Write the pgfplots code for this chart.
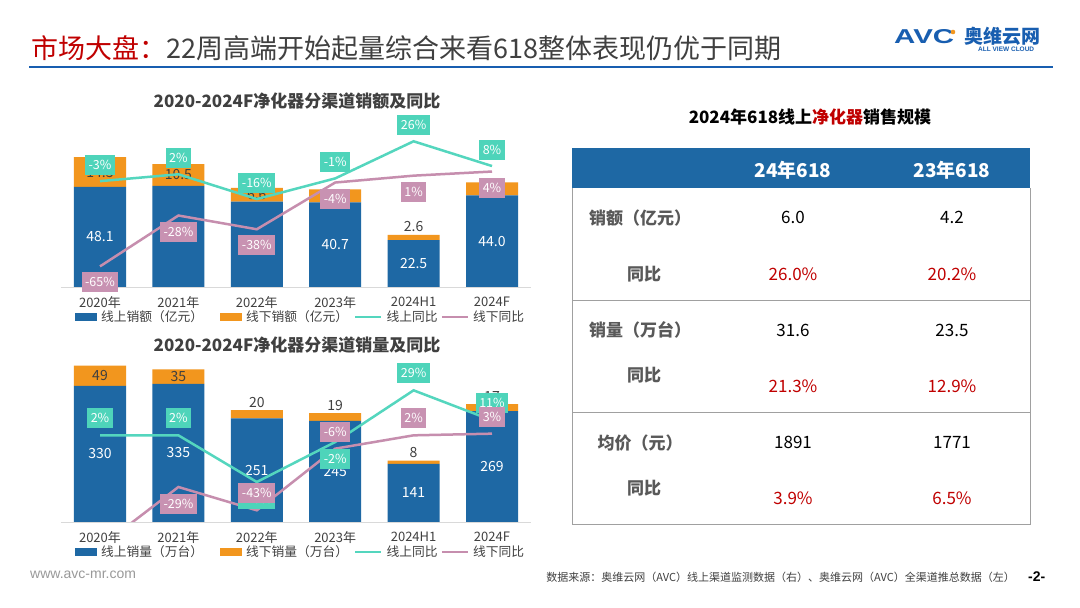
\documentclass[border=0pt]{standalone}
\usepackage{fontspec}
\usepackage{graphicx}
\usepackage{pgfplots}
\usepackage{pgfplotstable}
\pgfplotsset{compat=1.18}
\setmainfont{Noto Sans CJK SC}
\setsansfont{Noto Sans CJK SC}
\newfontfamily\lib{Liberation Sans}

\definecolor{barblue}{RGB}{30,104,164}
\definecolor{barorange}{RGB}{242,150,30}
\definecolor{lteal}{RGB}{84,214,190}
\definecolor{bteal}{RGB}{78,212,186}
\definecolor{lpink}{RGB}{198,142,174}
\definecolor{bpink}{RGB}{200,146,178}
\definecolor{tred}{RGB}{192,0,0}
\definecolor{txt}{RGB}{64,64,64}
\definecolor{lbl}{RGB}{89,89,89}
\definecolor{logoblue}{RGB}{24,94,176}
\definecolor{rulegray}{RGB}{160,160,160}

\newcommand{\fs}[1]{\fontsize{#1}{#1}\selectfont}

% sales amount (100 million yuan) and yoy (%)
% olv/ofv: 1 = value label shown, 0 = label hidden behind a yoy box in the reference
\pgfplotstableread{
x on off ab olv ofv onyoy ond onv offyoy offd offv
0 48.1 14.3 0 1 1 -3 1 1 -65 -1 1
1 48.6 10.5 0 0 1 2 1 1 -28 -1 1
2 41.0 6.6 0 0 1 -16 1 1 -38 -1 1
3 40.7 6.2 0 1 1 -1 1 1 -4 -1 1
4 22.5 2.6 1 1 1 26 1 1 1 -1 1
5 44.0 6.3 0 1 0 8 1 1 4 -1 1
}\amt
% sales volume (10k units) and yoy (%)
\pgfplotstableread{
x on off ab olv ofv onyoy ond onv offyoy offd offv
0 330 49 0 1 1 2 1 1 -65 -1 0
1 335 35 0 1 1 2 1 1 -29 -1 1
2 251 20 1 1 1 -26 -1 1 -43 1 1
3 245 19 1 1 1 -2 -1 1 -6 1 1
4 141 8 1 1 1 29 1 1 2 1 1
5 269 17 1 1 1 11 1 1 3 1 1
}\vol

\pgfplotsset{
  geo/.style={scale only axis, width=470.4pt, xmin=-0.5, xmax=5.5, anchor=south west},
  barleg/.style={legend image code/.code={\fill[##1] (0pt,-4pt) rectangle (22pt,4pt);}},
  lineleg/.style={legend image code/.code={\draw[##1] (0pt,0pt) -- (26pt,0pt);}},
  linelab/.style n args={4}{nodes near coords={\pgfplotspointmeta\%}, point meta=explicit symbolic,
    visualization depends on={\thisrow{#1}\as\ldir},
    visualization depends on={\thisrow{#2}\as\lvis},
    nodes near coords style={anchor=center, yshift=\ldir*#4, fill=#3, text=white,
      font=\fs{12.5}, inner xsep=3.5pt, inner ysep=0pt, minimum height=20pt, opacity=\lvis}},
  onlab/.style={nodes near coords, point meta=explicit symbolic,
    visualization depends on={\thisrow{olv}\as\olv},
    nodes near coords style={anchor=center, text=white, font=\fs{14}, opacity=\olv}},
  offlab/.style={nodes near coords, point meta=explicit symbolic,
    visualization depends on={\thisrow{ab}\as\lab},
    visualization depends on={\thisrow{ofv}\as\ofv},
    nodes near coords style={anchor=center, yshift=\lab*8pt, text=txt, font=\fs{14}, opacity=\ofv}},
  barax/.style={geo, axis x line*=bottom, axis y line=none,
    x axis line style={draw=black!15, line width=0.8pt, -},
    xtick={0,...,5}, xticklabels={2020年,2021年,2022年,2023年,2024H1,2024F},
    major tick length=0pt, xticklabel shift=6pt,
    xticklabel style={font=\fs{13}, text=txt},
    ybar stacked, bar width=52pt, clip=false,
    legend columns=4, legend cell align=left,
    legend style={draw=none, fill=none, font=\fs{12.75}, text=txt, inner sep=0pt, anchor=west,
      /tikz/every odd column/.append style={column sep=2pt},
      /tikz/column 2/.style={column sep=15pt},
      /tikz/column 4/.style={column sep=4pt},
      /tikz/column 6/.style={column sep=1pt}}},
}

\begin{document}
\begin{tikzpicture}
\useasboundingbox (0,0) rectangle (1080pt,608pt);
\fill[white] (0,0) rectangle (1080pt,608pt);

% ---------- header ----------
\node[anchor=west, inner sep=0pt, font=\fs{27}, text=txt] at (31pt,560pt)
  {\textcolor{tred}{市场大盘：}22周高端开始起量综合来看618整体表现仍优于同期};
\draw[logoblue, line width=2.5pt] (29pt,541pt) -- (1053pt,541pt);
\node[anchor=west, inner sep=0pt, text=logoblue] at (894pt,571pt)
  {\resizebox{60pt}{14pt}{\lib\bfseries AVC}};
\fill[barorange] (953pt,576pt) circle (2.3pt);
\node[anchor=west, inner sep=0pt, font=\fs{19}\bfseries, text=logoblue] at (964pt,572pt) {奥维云网};
\node[anchor=west, inner sep=0pt, font=\lib\fs{6.5}\bfseries, text=logoblue] at (978pt,559pt) {ALL VIEW CLOUD};

% ---------- chart titles ----------
\node[font=\fs{17}\bfseries, text=txt] at (297pt,507pt) {2020-2024F净化器分渠道销额及同比};
\node[font=\fs{17}\bfseries, text=txt] at (297pt,263pt) {2020-2024F净化器分渠道销量及同比};

% ---------- top chart: sales amount ----------
\begin{axis}[barax, at={(60.8pt,321pt)}, height=156pt, ymin=0, ymax=75,
  legend style={at={(0.03,-0.192)}}]
\addplot[fill=barblue, draw=none, barleg] table[x=x, y=on]{\amt};
\addlegendentry{线上销额（亿元）}
\addplot[fill=barorange, draw=none, barleg] table[x=x, y=off]{\amt};
\addlegendentry{线下销额（亿元）}
\addlegendimage{lteal, line width=2.5pt, lineleg}
\addlegendentry{线上同比}
\addlegendimage{lpink, line width=2.5pt, lineleg}
\addlegendentry{线下同比}
\end{axis}
\begin{axis}[geo, at={(60.8pt,321pt)}, height=156pt, ymin=0, ymax=75, hide axis, clip=false]
\addplot[draw=none, mark=none, onlab] table[x=x, y expr=\thisrow{on}/2, meta=on]{\amt};
\addplot[draw=none, mark=none, offlab] table[x=x, y expr=\thisrow{on}+\thisrow{off}*(0.5+0.5*\thisrow{ab}), meta=off]{\amt};
\end{axis}
\begin{axis}[geo, at={(60.8pt,321pt)}, height=156pt, ymin=-80, ymax=33.5, hide axis, clip=false]
\addplot[lteal, line width=2.5pt, mark=none, linelab={ond}{onv}{bteal}{16pt}] table[x=x, y=onyoy, meta=onyoy]{\amt};
\addplot[lpink, line width=2.5pt, mark=none, linelab={offd}{offv}{bpink}{16pt}] table[x=x, y=offyoy, meta=offyoy]{\amt};
\end{axis}

% ---------- bottom chart: sales volume ----------
\begin{axis}[barax, at={(60.8pt,86pt)}, height=165pt, ymin=0, ymax=400,
  legend style={at={(0.03,-0.182)}}]
\addplot[fill=barblue, draw=none, barleg] table[x=x, y=on]{\vol};
\addlegendentry{线上销量（万台）}
\addplot[fill=barorange, draw=none, barleg] table[x=x, y=off]{\vol};
\addlegendentry{线下销量（万台）}
\addlegendimage{lteal, line width=2.5pt, lineleg}
\addlegendentry{线上同比}
\addlegendimage{lpink, line width=2.5pt, lineleg}
\addlegendentry{线下同比}
\end{axis}
\begin{axis}[geo, at={(60.8pt,86pt)}, height=165pt, ymin=0, ymax=400, hide axis, clip=false]
\addplot[draw=none, mark=none, onlab] table[x=x, y expr=\thisrow{on}/2, meta=on]{\vol};
\addplot[draw=none, mark=none, offlab] table[x=x, y expr=\thisrow{on}+\thisrow{off}*(0.5+0.5*\thisrow{ab}), meta=off]{\vol};
\end{axis}
\begin{axis}[geo, at={(60.8pt,86pt)}, height=165pt, ymin=-50, ymax=49, hide axis]
\addplot[lteal, line width=2.5pt, mark=none, linelab={ond}{onv}{bteal}{17pt}] table[x=x, y=onyoy, meta=onyoy]{\vol};
\addplot[lpink, line width=2.5pt, mark=none, linelab={offd}{offv}{bpink}{17pt}] table[x=x, y=offyoy, meta=offyoy]{\vol};
\end{axis}

% ---------- right table ----------
\node[font=\fs{17}\bfseries, text=black] at (810pt,491pt) {2024年618线上\textcolor{tred}{净化器}销售规模};
\fill[barblue] (572pt,420pt) rectangle (1030pt,460pt);
\node[font=\fs{19}\bfseries, text=white] at (793pt,438pt) {24年618};
\node[font=\fs{19}\bfseries, text=white] at (952pt,438pt) {23年618};
\draw[rulegray, line width=1pt] (572pt,420pt) -- (572pt,83pt) -- (1030pt,83pt) -- (1030pt,420pt);
\draw[rulegray, line width=1pt] (572pt,307pt) -- (1030pt,307pt);
\draw[rulegray, line width=1pt] (572pt,195pt) -- (1030pt,195pt);

\begin{scope}[every node/.style={font=\fs{17}\bfseries, text=lbl}]
\node at (640pt,390pt) {销额（亿元）};
\node at (644pt,334pt) {同比};
\node at (640pt,278pt) {销量（万台）};
\node at (644pt,233pt) {同比};
\node at (640pt,165pt) {均价（元）};
\node at (644pt,120pt) {同比};
\end{scope}
\begin{scope}[every node/.style={font=\fs{17}, text=black}]
\node at (793pt,391pt) {6.0};
\node at (952pt,391pt) {4.2};
\node at (793pt,278pt) {31.6};
\node at (952pt,278pt) {23.5};
\node at (793pt,166pt) {1891};
\node at (952pt,166pt) {1771};
\end{scope}
\begin{scope}[every node/.style={font=\fs{17}, text=tred}]
\node at (793pt,334pt) {26.0\%};
\node at (952pt,334pt) {20.2\%};
\node at (793pt,222pt) {21.3\%};
\node at (952pt,222pt) {12.9\%};
\node at (793pt,110pt) {3.9\%};
\node at (952pt,110pt) {6.5\%};
\end{scope}

% ---------- footer ----------
\node[anchor=west, inner sep=0pt, font=\lib\fs{14}, text=black!40] at (30pt,33pt) {www.avc-mr.com};
\node[anchor=east, inner sep=0pt, font=\fs{11}, text=txt] at (1015pt,31pt)
  {数据来源：奥维云网（AVC）线上渠道监测数据（右）、奥维云网（AVC）全渠道推总数据（左）};
\node[anchor=west, inner sep=0pt, font=\lib\fs{14}\bfseries, text=black] at (1028pt,31pt) {-2-};
\end{tikzpicture}
\end{document}
